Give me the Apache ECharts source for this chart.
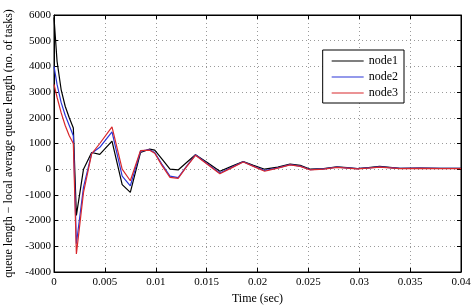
<!DOCTYPE html>
<html>
<head>
<meta charset="utf-8">
<script src="https://cdn.jsdelivr.net/npm/echarts@6/dist/echarts.min.js"></script>
<style>
  html, body { margin: 0; padding: 0; background: #fff; }
  #chart { width: 474px; height: 306px; }
</style>
</head>
<body>
<div id="chart"></div>
<script>
// time samples (sec), shared by all three nodes
const times = [0, 0.0003, 0.0007, 0.0011, 0.0015, 0.0019, 0.0022, 0.0029, 0.0037, 0.0045,
  0.0057, 0.0067, 0.0075, 0.0085, 0.0094, 0.0099, 0.0106, 0.0114, 0.0122, 0.013,
  0.0139, 0.0151, 0.0163, 0.0175, 0.0186, 0.0196, 0.0207, 0.022, 0.0232, 0.0242,
  0.0252, 0.0265, 0.0278, 0.0288, 0.0298, 0.0309, 0.032, 0.033, 0.034, 0.036, 0.038, 0.04];
const node1 = [5900, 4200, 3100, 2450, 2000, 1600, -1800, 0, 650, 580,
  1090, -600, -900, 650, 780, 740, 400, 0, -30, 250,
  560, 250, -80, 120, 300, 150, 0, 80, 200, 150,
  0, 20, 90, 60, 20, 60, 110, 70, 30, 40, 30, 30];
const node2 = [4000, 3300, 2600, 2100, 1700, 1300, -2900, -700, 620, 850,
  1450, -270, -650, 700, 760, 650, 200, -270, -330, 100,
  560, 200, -150, 80, 290, 120, -50, 50, 180, 120,
  -20, 10, 80, 50, 20, 50, 90, 60, 30, 40, 30, 30];
const node3 = [3300, 2800, 2200, 1700, 1300, 1000, -3300, -900, 600, 1000,
  1650, 0, -450, 720, 740, 620, 150, -320, -360, 80,
  540, 180, -180, 60, 280, 110, -80, 40, 170, 110,
  -30, 0, 70, 40, 10, 40, 80, 50, 20, 30, 20, 20];
const seriesNames = ["node1", "node2", "node3"];
const seriesColors = ["#000000", "#2b35d8", "#d8282c"];

const font = "Liberation Serif";
const chart = echarts.init(document.getElementById("chart"));

const pair = (vals) => times.map((t, i) => [t, vals[i]]);
const fmtX = (v) => String(+v.toFixed(3));
const fmtY = (v) => String(v);

const gridLine = { show: true, lineStyle: { color: "#9a9a9a", type: [1, 3], width: 1 } };

const option = {
  animation: false,
  backgroundColor: "#fff",
  grid: {
    left: 54, right: 13, top: 15, bottom: 34,
    outerBoundsMode: "none", containLabel: false,
    show: true, borderColor: "#000", borderWidth: 1
  },
  legend: {
    right: 70, top: 50,
    orient: "vertical",
    backgroundColor: "#fff",
    borderColor: "#000",
    borderWidth: 1,
    padding: [5, 6, 4, 9],
    itemGap: 4,
    itemWidth: 32,
    itemHeight: 11,
    icon: "path://M0,5 L32,5 L32,6 L0,6 Z",
    textStyle: { fontFamily: font, fontSize: 12, color: "#000" },
    data: seriesNames
  },
  xAxis: [{
    type: "value", min: 0, max: 0.04, interval: 0.005,
    name: "Time (sec)", nameLocation: "middle", nameGap: 18,
    nameTextStyle: { fontFamily: font, fontSize: 12, color: "#000" },
    axisLine: { show: true, onZero: false, lineStyle: { color: "#000" } },
    axisTick: { show: true, inside: true, length: 4, lineStyle: { color: "#000" } },
    axisLabel: { fontFamily: font, fontSize: 11, color: "#000", margin: 5, formatter: fmtX },
    splitLine: gridLine
  }, {
    type: "value", min: 0, max: 0.04, interval: 0.005, position: "top",
    axisLine: { show: true, onZero: false, lineStyle: { color: "#000" } },
    axisTick: { show: true, inside: true, length: 4, lineStyle: { color: "#000" } },
    axisLabel: { show: false }, splitLine: { show: false }
  }],
  yAxis: [{
    type: "value", min: -4000, max: 6000, interval: 1000,
    name: "queue length \u2212 local average queue length (no. of tasks)",
    nameLocation: "middle", nameGap: 34,
    nameTextStyle: { fontFamily: font, fontSize: 12, color: "#000" },
    axisLine: { show: true, onZero: false, lineStyle: { color: "#000" } },
    axisTick: { show: true, inside: true, length: 4, lineStyle: { color: "#000" } },
    axisLabel: { fontFamily: font, fontSize: 11, color: "#000", margin: 3, formatter: fmtY },
    splitLine: gridLine
  }, {
    type: "value", min: -4000, max: 6000, interval: 1000, position: "right",
    axisLine: { show: true, onZero: false, lineStyle: { color: "#000" } },
    axisTick: { show: true, inside: true, length: 4, lineStyle: { color: "#000" } },
    axisLabel: { show: false }, splitLine: { show: false }
  }],
  series: [node1, node2, node3].map((vals, i) => ({
    name: seriesNames[i],
    type: "line",
    data: pair(vals),
    showSymbol: false,
    color: seriesColors[i],
    lineStyle: { width: 1.2, color: seriesColors[i] }
  }))
};
chart.setOption(option);
</script>
</body>
</html>
